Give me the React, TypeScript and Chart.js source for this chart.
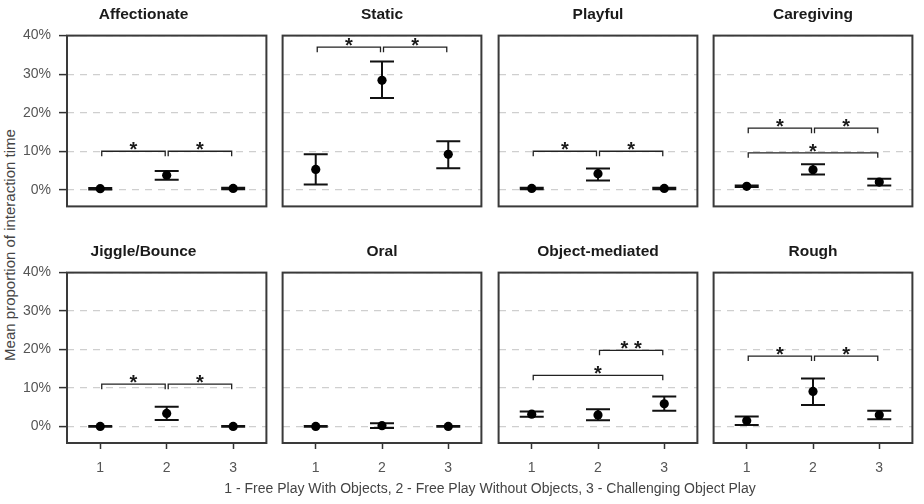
import React, { useEffect, useRef } from 'react';
import { Chart, registerables } from 'chart.js';

Chart.register(...registerables);

// Conditions on the x axis
const categories = ['1', '2', '3'];

// Behaviour categories, one panel each (row-major, 4 per row)
const panelTitles = [
  'Affectionate',
  'Static',
  'Playful',
  'Caregiving',
  'Jiggle/Bounce',
  'Oral',
  'Object-mediated',
  'Rough',
];

// Y axis tick values (percent)
const yTickValues = [0, 10, 20, 30, 40];

// Mean proportion of interaction time (%) per condition
const meanValues = [
  [0.3, 3.8, 0.35],
  [5.3, 28.4, 9.2],
  [0.35, 4.2, 0.35],
  [0.9, 5.2, 2.0],
  [0.0, 3.4, 0.0],
  [0.0, 0.2, 0.0],
  [3.2, 3.0, 5.9],
  [1.5, 9.1, 3.0],
];

// Lower end of the error bars (%)
const lowerValues = [
  [0.1, 2.6, 0.15],
  [1.4, 23.8, 5.6],
  [0.15, 2.4, 0.15],
  [0.7, 4.0, 1.1],
  [-0.1, 1.7, -0.1],
  [-0.1, -0.4, -0.1],
  [2.5, 1.6, 4.1],
  [0.4, 5.6, 1.9],
];

// Upper end of the error bars (%)
const upperValues = [
  [0.5, 4.9, 0.55],
  [9.2, 33.3, 12.6],
  [0.55, 5.5, 0.55],
  [1.1, 6.6, 2.9],
  [0.1, 5.1, 0.1],
  [0.1, 0.85, 0.1],
  [3.9, 4.5, 7.8],
  [2.6, 12.5, 4.1],
];

// Significance brackets per panel: [from condition, to condition, height %, label]
const brackets: [number, number, number, string][][] = [
  [[1, 2, 10, '*'], [2, 3, 10, '*']],
  [[1, 2, 37, '*'], [2, 3, 37, '*']],
  [[1, 2, 10, '*'], [2, 3, 10, '*']],
  [[1, 2, 16, '*'], [2, 3, 16, '*'], [1, 3, 9.6, '*']],
  [[1, 2, 11, '*'], [2, 3, 11, '*']],
  [],
  [[2, 3, 19.8, '* *'], [1, 3, 13.3, '*']],
  [[1, 2, 18.3, '*'], [2, 3, 18.3, '*']],
];

const FONT = "'Liberation Sans', Arial, Helvetica, sans-serif";
const Y_TITLE = 'Mean proportion of interaction time';
const X_TITLE = '1 - Free Play With Objects, 2 - Free Play Without Objects, 3 - Challenging Object Play';

// Panel frame geometry (page pixels)
const colLefts = [67, 282, 498, 713];
const rowTops = [35, 272];
const rowHeights = [172, 171];
const BOX_W = 200;
const TITLE_BLOCK = 34;

Chart.defaults.font.family = FONT;

// Error bars, significance brackets and the panel frame
const panelDecor = {
  id: 'panelDecor',
  beforeDatasetsDraw(chart: any) {
    const idx = chart.options.plugins.panelDecor.index;
    const xs = chart.scales.x;
    const ys = chart.scales.y;
    const ctx = chart.ctx;
    ctx.save();
    ctx.strokeStyle = '#111';
    ctx.lineWidth = 2;
    categories.forEach((_c, i) => {
      const x = xs.getPixelForValue(i);
      const yLo = ys.getPixelForValue(lowerValues[idx][i]);
      const yHi = ys.getPixelForValue(upperValues[idx][i]);
      ctx.beginPath();
      ctx.moveTo(x, yHi);
      ctx.lineTo(x, yLo);
      ctx.moveTo(x - 12, yHi);
      ctx.lineTo(x + 12, yHi);
      ctx.moveTo(x - 12, yLo);
      ctx.lineTo(x + 12, yLo);
      ctx.stroke();
    });
    ctx.restore();
  },
  afterDatasetsDraw(chart: any) {
    const idx = chart.options.plugins.panelDecor.index;
    const xs = chart.scales.x;
    const ys = chart.scales.y;
    const ctx = chart.ctx;
    ctx.save();
    ctx.strokeStyle = '#222';
    ctx.lineWidth = 1.3;
    ctx.fillStyle = '#1a1a1a';
    ctx.font = `bold 20px ${FONT}`;
    ctx.textAlign = 'center';
    ctx.textBaseline = 'alphabetic';
    brackets[idx].forEach(([from, to, h, label]) => {
      const x1 = xs.getPixelForValue(from - 1) + 1.5;
      const x2 = xs.getPixelForValue(to - 1) - 1.5;
      const y = ys.getPixelForValue(h);
      const yEnd = ys.getPixelForValue(h - 1.3);
      ctx.beginPath();
      ctx.moveTo(x1, yEnd);
      ctx.lineTo(x1, y);
      ctx.lineTo(x2, y);
      ctx.lineTo(x2, yEnd);
      ctx.stroke();
      ctx.fillText(label, (x1 + x2) / 2, y + 5);
    });
    ctx.restore();
  },
  afterDraw(chart: any) {
    const { left, top, right, bottom } = chart.chartArea;
    const ctx = chart.ctx;
    ctx.save();
    ctx.strokeStyle = '#3a3a3a';
    ctx.lineWidth = 2;
    ctx.strokeRect(left, top, right - left, bottom - top);
    ctx.restore();
  },
};

function Panel({ idx }: { idx: number }) {
  const ref = useRef<HTMLCanvasElement>(null);
  const row = Math.floor(idx / 4);
  const col = idx % 4;
  const firstCol = col === 0;
  const bottomRow = row === 1;
  const axisW = firstCol ? 47 : 0;
  const padL = firstCol ? 0 : 4;
  const xAxisH = bottomRow ? 40 : 0;
  const padB = bottomRow ? 0 : 4;
  const width = padL + axisW + BOX_W + 4;
  const height = TITLE_BLOCK + rowHeights[row] + xAxisH + padB;
  const left = colLefts[col] - axisW - padL;
  const top = rowTops[row] - TITLE_BLOCK;

  useEffect(() => {
    if (!ref.current) return;
    const chart = new Chart(ref.current, {
      type: 'line',
      data: {
        labels: categories,
        datasets: [
          {
            data: meanValues[idx],
            showLine: false,
            pointRadius: 4.6,
            pointHoverRadius: 4.6,
            pointBackgroundColor: '#000',
            pointBorderColor: '#000',
            pointBorderWidth: 0,
          },
        ],
      },
      options: {
        responsive: false,
        animation: false,
        events: [],
        layout: { padding: { left: padL, right: 4, top: 0, bottom: padB } },
        plugins: {
          legend: { display: false },
          tooltip: { enabled: false },
          title: {
            display: true,
            text: panelTitles[idx],
            color: '#1a1a1a',
            font: { size: 15.5, weight: 'bold', family: FONT },
            padding: { top: 4, bottom: 12 },
          },
          panelDecor: { index: idx },
        } as any,
        scales: {
          x: {
            type: 'category',
            offset: true,
            display: bottomRow,
            afterFit: (s: any) => {
              s.height = xAxisH;
              s.paddingLeft = 0;
              s.paddingRight = 0;
            },
            grid: {
              offset: false,
              drawOnChartArea: false,
              drawTicks: true,
              tickLength: 6,
              tickColor: '#333',
              tickWidth: 1.5,
            },
            border: { display: false },
            ticks: { color: '#555', font: { size: 14, family: FONT }, padding: 11 },
          },
          y: {
            min: -4.3,
            max: 40,
            afterBuildTicks: (s: any) => {
              s.ticks = yTickValues.map((v) => ({ value: v }));
            },
            afterFit: (s: any) => {
              s.width = axisW;
              s.paddingTop = 0;
              s.paddingBottom = 0;
            },
            ticks: {
              display: firstCol,
              color: '#555',
              font: { size: 14, family: FONT },
              padding: 8,
              callback: (v: any) => `${v}%`,
            },
            grid: {
              color: '#cfcfcf',
              lineWidth: 1.2,
              drawTicks: firstCol,
              tickLength: 8,
              tickColor: '#333',
              tickWidth: 1.5,
            },
            border: { display: false, dash: [7, 6] },
          },
        },
      },
      plugins: [panelDecor as any],
    });
    return () => chart.destroy();
  }, [idx]);

  return (
    <canvas
      ref={ref}
      width={width}
      height={height}
      style={{ position: 'absolute', left, top, width, height }}
    />
  );
}

export default function App() {
  return (
    <div
      style={{
        position: 'absolute',
        left: 0,
        top: 0,
        width: 924,
        height: 504,
        background: '#fff',
        overflow: 'hidden',
        fontFamily: FONT,
      }}
    >
      {panelTitles.map((_t, i) => (
        <Panel key={i} idx={i} />
      ))}
      <div
        style={{
          position: 'absolute',
          left: 9,
          top: 245,
          transform: 'translate(-50%, -50%) rotate(-90deg)',
          whiteSpace: 'nowrap',
          fontSize: 15,
          color: '#444',
        }}
      >
        {Y_TITLE}
      </div>
      <div
        style={{
          position: 'absolute',
          left: 490,
          top: 488,
          transform: 'translate(-50%, -50%)',
          whiteSpace: 'nowrap',
          fontSize: 14,
          color: '#444',
        }}
      >
        {X_TITLE}
      </div>
    </div>
  );
}
